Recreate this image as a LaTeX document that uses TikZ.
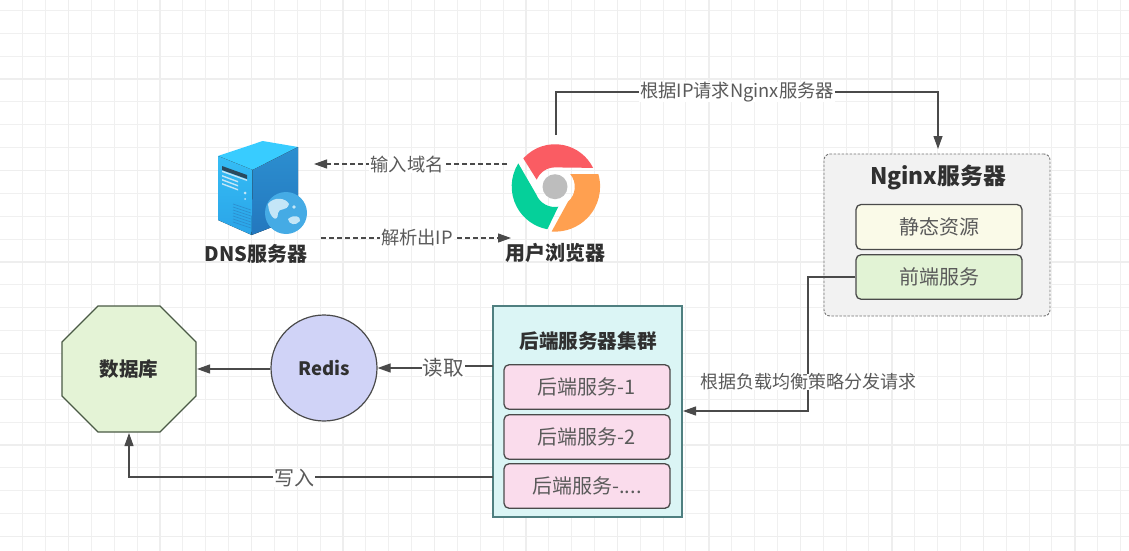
\documentclass[tikz,border=0pt]{standalone}
\usepackage{fontspec}
\setmainfont{Noto Sans CJK SC}
\usetikzlibrary{arrows.meta,shapes.geometric}
\definecolor{txt}{HTML}{5A5A5A}
\definecolor{edge}{HTML}{4A4A4A}
\definecolor{boldtxt}{HTML}{303030}
\definecolor{pinkfill}{HTML}{FADCEC}
\definecolor{chromered}{HTML}{FA5C63}
\definecolor{chromegreen}{HTML}{05D09A}
\definecolor{chromeorange}{HTML}{FFA050}
\definecolor{chromegrey}{HTML}{BDBDBD}
\definecolor{srvtop}{HTML}{38CCFF}
\definecolor{srvlefta}{HTML}{35BDF5}
\definecolor{srvleftb}{HTML}{2AA4E8}
\definecolor{srvrighta}{HTML}{2C8FD0}
\definecolor{srvrightb}{HTML}{2377BE}
\definecolor{globe}{HTML}{45ABE5}
\definecolor{land}{HTML}{C4E6F7}
\definecolor{slot}{HTML}{2A4A5E}
\definecolor{octfill}{HTML}{E4F3D6}
\definecolor{octedge}{HTML}{4A5A45}
\definecolor{yelfill}{HTML}{FAFAE8}
\definecolor{grnfill}{HTML}{E2F3D5}
\definecolor{clufill}{HTML}{DBF5F5}
\definecolor{cluedge}{HTML}{4F7F80}
\definecolor{redfill}{HTML}{D0D3F7}
\definecolor{ngxfill}{HTML}{F2F2F2}
\tikzset{
  gridminor/.style={draw=black!6,line width=1pt},
  gridmajor/.style={draw=black!6.5,line width=1.5pt},
  conn/.style={draw=edge,line width=1.2pt,-{Triangle[length=13pt,width=9pt]}},
  dashconn/.style={conn,dash pattern=on 5pt off 3pt},
  lbl/.style={fill=white,inner xsep=1pt,inner ysep=0pt,text=txt,font=\fontsize{18.3}{20}\selectfont},
  inner/.style={draw=edge,line width=1.3pt,rounded corners=5pt,minimum width=166pt,inner sep=0pt,text=txt,font=\fontsize{20}{22}\selectfont},
  title/.style={text=boldtxt,inner sep=0pt,font=\bfseries\fontsize{20}{22}\selectfont},
  pinkbox/.style={inner,fill=pinkfill,minimum height=44.5pt}
}
\begin{document}
\begin{tikzpicture}[x=1pt,y=1pt,yscale=-1]
\useasboundingbox (0,0) rectangle (1129,551);
\fill[white] (0,0) rectangle (1129,551);
% grid
\foreach \i in {-3,...,46} {\draw[gridminor] ({68.5+\i*22.87},0) -- ++(0,551);}
\foreach \j in {-3,...,21} {\draw[gridminor] (0,{79+\j*22.87}) -- ++(1129,0);}
\foreach \i in {0,...,12} {\draw[gridmajor] ({68.5+\i*91.5},0) -- ++(0,551);}
\foreach \j in {-0,...,5} {\draw[gridmajor] (0,{79+\j*91.5}) -- ++(1129,0);}

% DNS server icon
\fill[srvtop] (218,156) -- (262.7,141) -- (298,147) -- (252.7,170) -- cycle;
\fill[top color=srvlefta,bottom color=srvleftb] (218,156) -- (252.7,170) -- (251.7,235) -- (218,220) -- cycle;
\fill[top color=srvrighta,bottom color=srvrightb] (252.7,170) -- (298,147) -- (298,217) -- (251.7,235) -- cycle;
\fill[slot] (222,166) -- (247,175) -- (247,179) -- (222,170) -- cycle;
\fill[land] (222,170.5) -- (247,179.5) -- (247,181) -- (222,172) -- cycle;
\foreach \k in {0,1,2} {\fill[land] (222,{175+\k*4}) -- (238,{181+\k*4}) -- (238,{182.5+\k*4}) -- (222,{176.5+\k*4}) -- cycle;}
\foreach \k in {0,...,6} {\draw[srvrighta,line width=0.7pt] (233,{204+\k*3}) -- (251,{210+\k*3});}
\fill[land] (245,193) circle (1.5);
\fill[land] (245,199) circle (1);
\fill[globe] (286,213) circle (21);
\fill[land] (268,204) .. controls (274,196) and (286,198) .. (289,204) .. controls (287,212) and (279,207) .. (278,213) .. controls (278,224) and (269,218) .. (268,204) -- cycle;
\fill[land] (288,219) .. controls (294,214) and (301,216) .. (300,221) .. controls (296,226) and (289,225) .. (288,219) -- cycle;
\fill[land] (294,207) circle (1.8);
\node[minimum width=80pt,minimum height=94pt,inner sep=0pt] (dns) at (258,188) {};
\coordinate (dnsin) at (314,164);
\coordinate (dnsout) at (321,238);

% browser icon
\begin{scope}[shift={(555,186.7)}]
\fill[chromered] (-31.7,-28.3) arc[start angle=221.8,end angle=333.7,radius=42.5] -- (0,-19.3) arc[start angle=270,end angle=202,radius=19.7] -- cycle;
\fill[chromeorange] (43.3,-12.7) arc[start angle=-16.3,end angle=94.4,radius=45] -- (13,15) arc[start angle=49,end angle=-40,radius=19.8] -- cycle;
\fill[chromegreen] (-36.7,-23.3) arc[start angle=212,end angle=100.4,radius=43.5] -- (3.3,20) arc[start angle=80,end angle=158,radius=20] -- cycle;
\fill[chromegrey] (0,0) circle (12.5);
\end{scope}
\node[minimum size=87pt,inner sep=0pt] (browser) at (555,186.7) {};
\coordinate (browserin) at (511,238);
\coordinate (browserout) at (507,164);

\node[title] (dnstitle) at (256,254) {DNS服务器};
\node[title] (browsertitle) at (555,252.5) {用户浏览器};

% Nginx group
\node[draw=black!55,dash pattern=on 2.5pt off 1.5pt,line width=0.9pt,rounded corners=6pt,fill=ngxfill,minimum width=226pt,minimum height=162pt,inner sep=0pt] (nginx) at (937,235) {};
\node[title,font=\bfseries\fontsize{22.8}{24}\selectfont] (nginxtitle) at (938,177) {Nginx服务器};
\node[inner,fill=yelfill,minimum height=45pt] (static) at (939,227) {静态资源};
\node[inner,fill=grnfill,minimum height=44.5pt] (front) at (939,277) {前端服务};

% Cluster
\node[draw=cluedge,line width=1.3pt,fill=clufill,minimum width=189pt,minimum height=211pt,inner sep=0pt] (cluster) at (587.5,411.5) {};
\node[title,font=\bfseries\fontsize{19.6}{22}\selectfont] (clustertitle) at (588,341) {后端服务器集群};
\node[pinkbox] (b1) at (587,387) {后端服务-1};
\node[pinkbox] (b2) at (587,437) {后端服务-2};
\node[pinkbox] (b3) at (587,486) {后端服务-....};

% Redis and DB
\node[ellipse,draw=edge,line width=1.2pt,fill=redfill,minimum width=106pt,minimum height=106pt,inner sep=0pt,text=boldtxt,font=\bfseries\fontsize{18.5}{22}\selectfont] (redis) at (324,368) {Redis};
\fill[octfill,draw=octedge,line width=1.2pt] (98,306) -- (160,306) -- (196,342) -- (196,396) -- (160,432) -- (98,432) -- (62,396) -- (62,342) -- cycle;
\node[text=boldtxt,inner sep=0pt,font=\bfseries\fontsize{19.5}{22}\selectfont] (dbtitle) at (129,369) {数据库};
\coordinate (dbeast) at (197,369);
\coordinate (dbsouth) at (129,433);
\coordinate (readout) at (493,366);
\coordinate (readmid) at (443,368);
\coordinate (writeout) at (493,477);
\coordinate (nginxin) at (938,149);
\coordinate (clusterin) at (683,411);
\coordinate (browsertop) at (556,135);

% connectors
\draw[conn] (browsertop) |- (737,92) -| (nginxin);
\draw[conn] (front.west) -| (808,411) -- (clusterin);
\draw[conn] (readout) -- (readmid |- readout) -- (readmid) -- (redis.east);
\draw[conn] (redis.west |- dbeast) -- (dbeast);
\draw[conn] (writeout) -| (dbsouth);
\draw[dashconn] (browserout) -- (dnsin);
\draw[dashconn] (dnsout) -- (browserin);

% labels
\node[lbl] (l1) at (737,92) {根据IP请求Nginx服务器};
\node[lbl,font=\fontsize{18}{20}\selectfont] (l2) at (808.5,382) {根据负载均衡策略分发请求};
\node[lbl,font=\fontsize{20.5}{22}\selectfont] (l3) at (443,368) {读取};
\node[lbl,font=\fontsize{20}{22}\selectfont] (l4) at (294,478) {写入};
\node[lbl] (l5) at (407,165) {输入域名};
\node[lbl] (l6) at (417,238) {解析出IP};
\end{tikzpicture}
\end{document}
